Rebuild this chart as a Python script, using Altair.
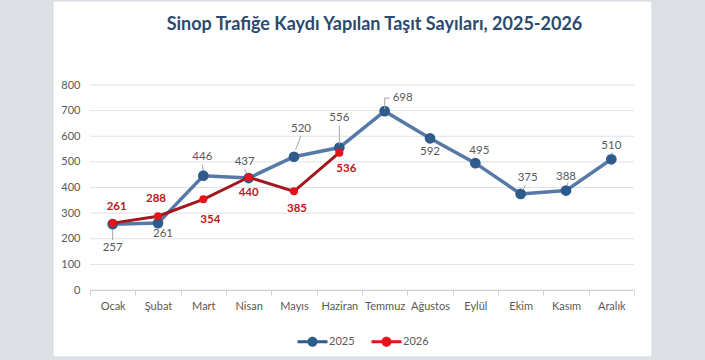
import altair as alt
import pandas as pd

months = ["Ocak", "Şubat", "Mart", "Nisan", "Mayıs", "Haziran",
          "Temmuz", "Ağustos", "Eylül", "Ekim", "Kasım", "Aralık"]
values_2025 = [257, 261, 446, 437, 520, 556, 698, 592, 495, 375, 388, 510]
values_2026 = [261, 288, 354, 440, 385, 536]
years = ["2025", "2026"]
y_ticks = [0, 100, 200, 300, 400, 500, 600, 700, 800]
title_text = "Sinop Trafiğe Kaydı Yapılan Taşıt Sayıları, 2025-2026"

rows = [{"month": m, "value": v, "year": "2025"} for m, v in zip(months, values_2025)]
rows += [{"month": m, "value": v, "year": "2026"} for m, v in zip(months, values_2026)]
df = pd.DataFrame(rows)
grid_df = pd.DataFrame({"tick": y_ticks})
title_df = pd.DataFrame({"title": [title_text]})

# layout (styles, not data)
W, H = 544, 205
PAD_L, PAD_T = 90, 85
FONT = "Lato"
GRAY = "#595959"
C25_LINE, C25_PT = "#5679a8", "#2e5a8c"
C26_LINE, C26_PT = "#a3181e", "#e3141b"

label_off_2025 = {"Ocak": (0, 24), "Şubat": (5, 11), "Mart": (-1, -19), "Nisan": (-4, -16),
                  "Mayıs": (7, -28), "Haziran": (0, -30), "Temmuz": (18, -13), "Ağustos": (0, 14),
                  "Eylül": (4, -12), "Ekim": (7, -16), "Kasım": (0, -14), "Aralık": (0, -13)}
label_off_2026 = {"Ocak": (4, -16), "Şubat": (-2, -17), "Mart": (7, 21), "Nisan": (0, 16),
                  "Mayıs": (3, 18), "Haziran": (7, 16)}
leaders_2025 = [("Ocak", 0, 5, 0, 16), ("Mayıs", 1.5, -7, 7, -21), ("Haziran", 0, -3, 0, -22),
                ("Temmuz", 0, -2, 0, -13), ("Temmuz", 0, -13, 5, -13),
                ("Mart", 0, -5, -1, -11), ("Nisan", -2, -5, -4, -9),
                ("Ekim", 2, -4, 5, -9), ("Kasım", 1, -5, 2, -8), ("Aralık", 0, -5, 1, -7)]

y_scale = alt.Scale(domain=[0, 800], nice=False, zero=True)
x_scale = alt.Scale(type="band", domain=months, paddingInner=0, paddingOuter=0)
x_axis = alt.Axis(title=None, labelAngle=0, labelFont=FONT, labelFontSize=11, labelColor=GRAY,
                  tickColor="#d0d0d0", tickSize=5, domainColor="#d0d0d0", tickBand="extent",
                  labelPadding=5, grid=False, zindex=1)
y_axis = alt.Axis(title=None, values=y_ticks, grid=False, ticks=False, domain=False,
                  labelPadding=10, labelFont=FONT, labelFontSize=11, labelColor=GRAY, zindex=1)


def X():
    return alt.X("month:N", sort=months, scale=x_scale, axis=x_axis, bandPosition=0.5)


def Y(field="value"):
    return alt.Y(f"{field}:Q", scale=y_scale, axis=y_axis)


color_enc = alt.Color(
    "year:N",
    scale=alt.Scale(domain=years, range=[C25_PT, C26_PT]),
    legend=alt.Legend(
        title=None, orient="none", legendX=217, legendY=251, direction="horizontal",
        labelFont=FONT, labelFontSize=11, labelColor=GRAY,
        symbolType="M-3,-0.3H3V0.3H-3Z M-1,0A1,1,0,1,1,1,0A1,1,0,1,1,-1,0Z",
        symbolSize=100, symbolStrokeWidth=0, labelOffset=11, columnPadding=16, padding=0,
    ),
)

card = alt.Chart(title_df).mark_rect(fill="white", stroke="#d3dae2", strokeWidth=1).encode(
    x=alt.value(-37), x2=alt.value(562), y=alt.value(-84), y2=alt.value(272)
)
title_mark = alt.Chart(title_df).mark_text(
    font=FONT, fontSize=18, fontWeight="bold", color="#2b4a6e", align="center", baseline="alphabetic"
).encode(text="title:N", x=alt.value(284.5), y=alt.value(-55))

grid = alt.Chart(grid_df).mark_rule(color="#dbe3ec", strokeWidth=1).encode(
    y=Y("tick"), x=alt.value(0), x2=alt.value(W)
)

base = alt.Chart(df)
line25 = base.transform_filter(alt.datum.year == "2025").mark_line(
    color=C25_LINE, strokeWidth=3.5).encode(x=X(), y=Y())
pts25 = base.transform_filter(alt.datum.year == "2025").mark_point(
    filled=True, size=115, opacity=1).encode(x=X(), y=Y(), color=color_enc)
line26 = base.transform_filter(alt.datum.year == "2026").mark_line(
    color=C26_LINE, strokeWidth=3).encode(x=X(), y=Y())
pts26 = base.transform_filter(alt.datum.year == "2026").mark_point(
    filled=True, size=65, opacity=1).encode(x=X(), y=Y(), color=color_enc)

leader_layers = []
for m, x1, y1, x2, y2 in leaders_2025:
    leader_layers.append(
        base.transform_filter((alt.datum.year == "2025") & (alt.datum.month == m))
        .mark_rule(color="#a6a6a6", strokeWidth=1, xOffset=x1, yOffset=y1, x2Offset=x2, y2Offset=y2)
        .encode(x=X(), x2=alt.X2("month"), y=Y(), y2=alt.Y2("value"))
    )

text_layers = []
for m, (dx, dy) in label_off_2025.items():
    text_layers.append(
        base.transform_filter((alt.datum.year == "2025") & (alt.datum.month == m))
        .mark_text(dx=dx, dy=dy, font=FONT, fontSize=11.5, color=GRAY, baseline="middle", align="center")
        .encode(x=X(), y=Y(), text="value:Q")
    )
for m, (dx, dy) in label_off_2026.items():
    text_layers.append(
        base.transform_filter((alt.datum.year == "2026") & (alt.datum.month == m))
        .mark_text(dx=dx, dy=dy, font=FONT, fontSize=11.5, fontWeight="bold", color="#c0161c",
                   baseline="middle", align="center")
        .encode(x=X(), y=Y(), text="value:Q")
    )

chart = alt.layer(card, title_mark, grid, line25, pts25, line26, pts26,
                  *leader_layers, *text_layers).properties(
    width=W, height=H,
    background="#dde1e5",
    autosize=alt.AutoSizeParams(type="none"),
    padding={"left": PAD_L, "top": PAD_T, "right": 705 - PAD_L - W, "bottom": 360 - PAD_T - H},
).configure_view(stroke=None)

chart.save("out.html", embed_options={"renderer": "svg", "actions": False})
